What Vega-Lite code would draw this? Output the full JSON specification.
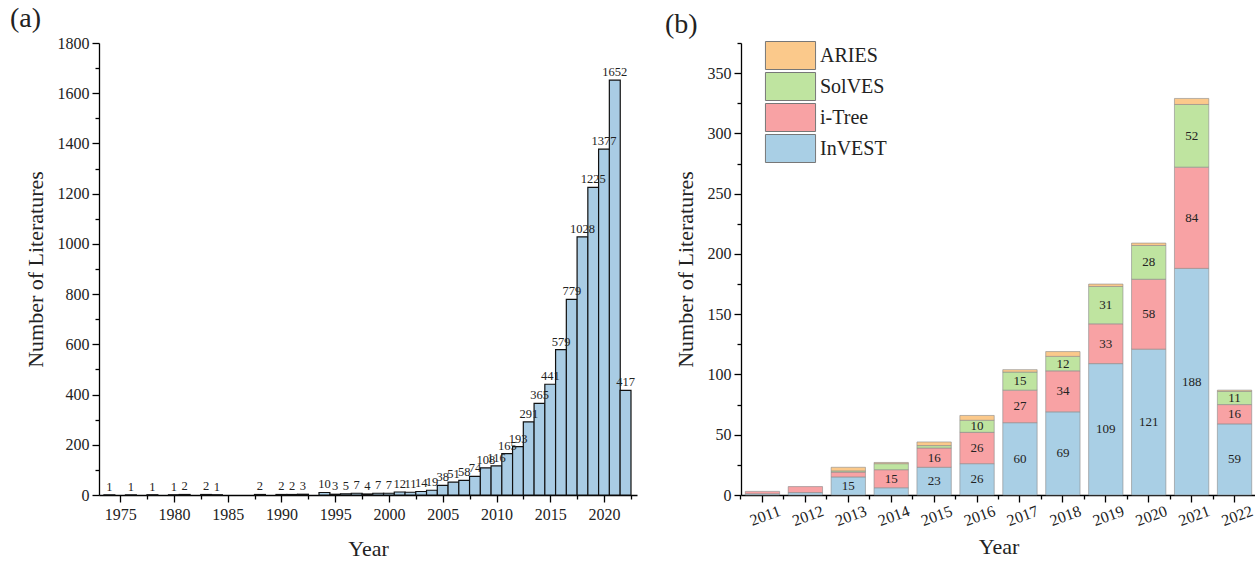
{
  "$schema": "https://vega.github.io/schema/vega-lite/v6.json",
  "background": "white",
  "padding": {"left": 10, "top": 5, "right": 4, "bottom": 5},
  "spacing": 28,
  "resolve": {"legend": {"color": "independent"}},
  "config": {
    "font": "Liberation Serif",
    "view": {"stroke": null},
    "axis": {
      "labelFont": "Liberation Serif", "titleFont": "Liberation Serif",
      "labelFontSize": 16, "titleFontSize": 22, "titleFontWeight": "normal",
      "labelColor": "#222", "titleColor": "#222",
      "domainColor": "#000", "tickColor": "#000", "domainWidth": 1.3, "tickWidth": 1.3, "grid": false
    },
    "title": {"font": "Liberation Serif", "fontSize": 28, "fontWeight": "normal", "anchor": "start", "frame": "bounds", "color": "#222"}
  },
  "hconcat": [
    {
      "title": {"text": "(a)", "dx": -14, "offset": 2},
      "width": 538, "height": 452,
      "data": {"values": [
        {"year": 1974, "count": 1}, {"year": 1976, "count": 1}, {"year": 1978, "count": 1},
        {"year": 1980, "count": 1}, {"year": 1981, "count": 2}, {"year": 1983, "count": 2},
        {"year": 1984, "count": 1}, {"year": 1988, "count": 2}, {"year": 1990, "count": 2},
        {"year": 1991, "count": 2}, {"year": 1992, "count": 3}, {"year": 1994, "count": 10},
        {"year": 1995, "count": 3}, {"year": 1996, "count": 5}, {"year": 1997, "count": 7},
        {"year": 1998, "count": 4}, {"year": 1999, "count": 7}, {"year": 2000, "count": 7},
        {"year": 2001, "count": 12}, {"year": 2002, "count": 11}, {"year": 2003, "count": 14},
        {"year": 2004, "count": 19}, {"year": 2005, "count": 38}, {"year": 2006, "count": 51},
        {"year": 2007, "count": 58}, {"year": 2008, "count": 74}, {"year": 2009, "count": 108},
        {"year": 2010, "count": 116}, {"year": 2011, "count": 165}, {"year": 2012, "count": 193},
        {"year": 2013, "count": 291}, {"year": 2014, "count": 365}, {"year": 2015, "count": 441},
        {"year": 2016, "count": 579}, {"year": 2017, "count": 779}, {"year": 2018, "count": 1028},
        {"year": 2019, "count": 1225}, {"year": 2020, "count": 1377}, {"year": 2021, "count": 1652},
        {"year": 2022, "count": 417}
      ]},
      "layer": [
        {
          "mark": {"type": "bar", "width": 10.9, "fill": "#a9cce4", "stroke": "#111", "strokeWidth": 1.2},
          "encoding": {
            "x": {"field": "year", "type": "quantitative",
              "scale": {"domain": [1973.5, 2022.6], "nice": false, "zero": false},
              "axis": {"values": [1975, 1980, 1985, 1990, 1995, 2000, 2005, 2010, 2015, 2020], "format": "d", "title": "Year", "tickSize": 7, "labelPadding": 4, "titlePadding": 16, "orient": "bottom"}},
            "y": {"field": "count", "type": "quantitative",
              "scale": {"domain": [0, 1800], "nice": false},
              "axis": {"values": [0, 200, 400, 600, 800, 1000, 1200, 1400, 1600, 1800], "format": "d", "title": "Number of Literatures", "tickSize": 7, "labelPadding": 3, "titlePadding": 10, "orient": "left"}}
          }
        },
        {
          "mark": {"type": "text", "dy": -8, "fontSize": 12.5, "color": "#222", "font": "Liberation Serif"},
          "encoding": {
            "x": {"field": "year", "type": "quantitative",
              "axis": {"values": [1977.5, 1982.5, 1987.5, 1992.5, 1997.5, 2002.5, 2007.5, 2012.5, 2017.5, 2022.5], "labels": false, "title": null, "tickSize": 4, "domain": false, "orient": "bottom"}},
            "y": {"field": "count", "type": "quantitative",
              "axis": {"values": [100, 300, 500, 700, 900, 1100, 1300, 1500, 1700], "labels": false, "title": null, "tickSize": 4, "domain": false, "orient": "left"}},
            "text": {"field": "count", "type": "quantitative"}
          }
        }
      ],
      "resolve": {"axis": {"x": "independent", "y": "independent"}}
    },
    {
      "title": {"text": "(b)", "dx": -9, "offset": 2},
      "width": 515, "height": 452,
      "data": {"values": [
        {"year": "2011", "tool": "InVEST", "n": 1}, {"year": "2011", "tool": "i-Tree", "n": 2},
        {"year": "2012", "tool": "InVEST", "n": 2}, {"year": "2012", "tool": "i-Tree", "n": 5},
        {"year": "2013", "tool": "InVEST", "n": 15}, {"year": "2013", "tool": "i-Tree", "n": 4}, {"year": "2013", "tool": "SolVES", "n": 1}, {"year": "2013", "tool": "ARIES", "n": 3},
        {"year": "2014", "tool": "InVEST", "n": 6}, {"year": "2014", "tool": "i-Tree", "n": 15}, {"year": "2014", "tool": "SolVES", "n": 5}, {"year": "2014", "tool": "ARIES", "n": 1},
        {"year": "2015", "tool": "InVEST", "n": 23}, {"year": "2015", "tool": "i-Tree", "n": 16}, {"year": "2015", "tool": "SolVES", "n": 2}, {"year": "2015", "tool": "ARIES", "n": 3},
        {"year": "2016", "tool": "InVEST", "n": 26}, {"year": "2016", "tool": "i-Tree", "n": 26}, {"year": "2016", "tool": "SolVES", "n": 10}, {"year": "2016", "tool": "ARIES", "n": 4},
        {"year": "2017", "tool": "InVEST", "n": 60}, {"year": "2017", "tool": "i-Tree", "n": 27}, {"year": "2017", "tool": "SolVES", "n": 15}, {"year": "2017", "tool": "ARIES", "n": 2},
        {"year": "2018", "tool": "InVEST", "n": 69}, {"year": "2018", "tool": "i-Tree", "n": 34}, {"year": "2018", "tool": "SolVES", "n": 12}, {"year": "2018", "tool": "ARIES", "n": 4},
        {"year": "2019", "tool": "InVEST", "n": 109}, {"year": "2019", "tool": "i-Tree", "n": 33}, {"year": "2019", "tool": "SolVES", "n": 31}, {"year": "2019", "tool": "ARIES", "n": 2},
        {"year": "2020", "tool": "InVEST", "n": 121}, {"year": "2020", "tool": "i-Tree", "n": 58}, {"year": "2020", "tool": "SolVES", "n": 28}, {"year": "2020", "tool": "ARIES", "n": 2},
        {"year": "2021", "tool": "InVEST", "n": 188}, {"year": "2021", "tool": "i-Tree", "n": 84}, {"year": "2021", "tool": "SolVES", "n": 52}, {"year": "2021", "tool": "ARIES", "n": 5},
        {"year": "2022", "tool": "InVEST", "n": 59}, {"year": "2022", "tool": "i-Tree", "n": 16}, {"year": "2022", "tool": "SolVES", "n": 11}, {"year": "2022", "tool": "ARIES", "n": 1}
      ]},
      "transform": [{"stack": "n", "groupby": ["year"], "as": ["y0", "y1"]}],
      "layer": [
        {
          "mark": {"type": "bar", "stroke": "#8a8a8a", "strokeWidth": 0.6},
          "encoding": {
            "x": {"field": "year", "type": "ordinal",
              "scale": {"paddingInner": 0.2, "paddingOuter": 0.1},
              "axis": {"title": "Year", "labelAngle": -20, "labelAlign": "center", "labelBaseline": "top", "tickSize": 7, "labelPadding": 6, "titlePadding": 8, "orient": "bottom"}},
            "y": {"field": "y1", "type": "quantitative",
              "scale": {"domain": [0, 375], "nice": false},
              "axis": {"values": [0, 50, 100, 150, 200, 250, 300, 350], "format": "d", "title": "Number of Literatures", "tickSize": 7, "labelPadding": 3, "titlePadding": 10, "orient": "left"}},
            "y2": {"field": "y0"},
            "color": {"field": "tool", "type": "nominal",
              "scale": {"domain": ["ARIES", "SolVES", "i-Tree", "InVEST"], "range": ["#fbc98b", "#bfe4a0", "#f8a2a4", "#a9cfe5"]},
              "legend": {"title": null, "orient": "none", "legendX": 35, "legendY": -2, "padding": 0,
                "symbolType": "M-1.79,-1L1.79,-1L1.79,1L-1.79,1Z", "symbolSize": 784,
                "symbolStrokeColor": "#777", "symbolStrokeWidth": 1, "symbolOpacity": 1,
                "labelFont": "Liberation Serif", "labelFontSize": 20, "labelColor": "#222", "labelOffset": 15, "rowPadding": -2}}
          }
        },
        {
          "transform": [
            {"filter": "datum.n >= 10"},
            {"fold": ["y0", "y1"], "as": ["k", "v"]},
            {"aggregate": [{"op": "mean", "field": "v", "as": "mid"}], "groupby": ["year", "tool", "n"]}
          ],
          "mark": {"type": "text", "fontSize": 13, "color": "#222", "font": "Liberation Serif"},
          "encoding": {
            "x": {"field": "year", "type": "ordinal",
              "axis": {"bandPosition": -0.125, "labels": false, "title": null, "tickSize": 4, "domain": false, "orient": "bottom"}},
            "y": {"field": "mid", "type": "quantitative",
              "axis": {"values": [25, 75, 125, 175, 225, 275, 325, 375], "labels": false, "title": null, "tickSize": 4, "domain": false, "orient": "left"}},
            "text": {"field": "n", "type": "quantitative"}
          }
        }
      ],
      "resolve": {"axis": {"x": "independent", "y": "independent"}}
    }
  ]
}
